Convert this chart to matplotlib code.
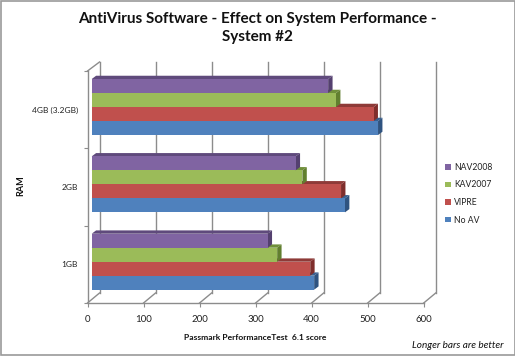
import matplotlib
matplotlib.use("Agg")
import matplotlib.pyplot as plt
from matplotlib.patches import Polygon, Rectangle, Patch

plt.rcParams['font.family'] = ['Lato', 'DejaVu Sans']

categories = ['1GB', '2GB', '4GB (3.2GB)']
series = ['No AV', 'VIPRE', 'KAV2007', 'NAV2008']
no_av = [397, 452, 511]
vipre = [390, 445, 503]
kav2007 = [331, 376, 436]
nav2008 = [314, 364, 422]
values = [no_av, vipre, kav2007, nav2008]
colors = ['#4F81BD', '#C0504D', '#9BBB59', '#8064A2']
side_colors = ['#2F5380', '#7F2E2C', '#617F2F', '#54406F']
top_colors = ['#3A6190', '#8E3A38', '#6F8F3A', '#5F4A7C']
xticks = [0, 100, 200, 300, 400, 500, 600]

W, H = 515, 356
fig = plt.figure(figsize=(W / 100, H / 100), dpi=100, facecolor='white')
left, right, top, bottom = 87.5, 423.7, 71, 303
ax = fig.add_axes([left / W, 1 - bottom / H, (right - left) / W, (bottom - top) / H])
ax.set_xlim(0, 600)
ax.set_ylim(0, 3)
ax.patch.set_alpha(0)
for s in ax.spines.values():
    s.set_visible(False)

# pixel sizes to data units
px = 600 / (right - left)
py = 3 / (bottom - top)
grid = '#8C8C8C'
wall_dx, wall_dy = 12 * px, 10 * py
bar_dx, bar_dy = 4.4 * px, 3.3 * py
bar_h = 14 * py
line_kw = dict(color=grid, lw=1.0, clip_on=False, zorder=1)

# walls
ax.plot([0, 600], [0, 0], **line_kw)
ax.plot([0, 0], [0, 3], **line_kw)
ax.plot([0, wall_dx], [3, 3 + 9 * py], **line_kw)
for x in xticks:
    ax.plot([x, x + wall_dx], [0, wall_dy], **line_kw)
    ax.plot([x + wall_dx, x + wall_dx], [wall_dy, 3 + 9 * py], **line_kw)

# bars, lowest series first so the upper faces overlap correctly
for i in range(len(series)):
    for j in range(len(categories)):
        y = j + 0.534 + (i - 2) * bar_h + bar_h / 2
        v = values[i][j]
        x0 = 4.2 * px
        x1 = x0 + v
        ytop = y + bar_h / 2
        ybot = y - bar_h / 2
        ax.add_patch(Polygon([(x0, ytop), (x1, ytop), (x1 + bar_dx, ytop + bar_dy), (x0 + bar_dx, ytop + bar_dy)],
                             closed=True, fc=top_colors[i], ec='none', clip_on=False, zorder=2))
        ax.add_patch(Polygon([(x1, ybot), (x1 + bar_dx, ybot + bar_dy), (x1 + bar_dx, ytop + bar_dy), (x1, ytop)],
                             closed=True, fc=side_colors[i], ec='none', clip_on=False, zorder=2))
        ax.barh(y, v, height=bar_h, left=x0, color=colors[i], edgecolor='none', zorder=2, clip_on=False)

# axes text
ax.set_xticks(xticks)
ax.set_yticks([0, 1, 2, 3])
ax.set_yticklabels([])
ax.set_yticks([0.5, 1.5, 2.5], labels=categories, minor=True)
ax.tick_params(axis='x', length=3, color=grid, labelsize=7, labelcolor='#222222', pad=6)
ax.tick_params(axis='y', which='major', length=3, color=grid)
ax.tick_params(axis='y', which='minor', length=0, labelsize=6, labelcolor='#222222', pad=7)

fig.text(257 / W, 1 - 28 / H, 'AntiVirus Software - Effect on System Performance -\nSystem #2',
         ha='center', va='center', fontsize=11, fontweight='bold', linespacing=1.35, color='#111111')
fig.text(21 / W, 1 - 186 / H, 'RAM', rotation=90, ha='center', va='center',
         fontsize=6.5, fontweight='bold', color='#111111')
fig.text(255.5 / W, 1 - 337 / H, 'Passmark PerformanceTest  6.1 score', ha='center', va='center',
         fontsize=6.1, fontweight='bold', color='#111111')
fig.text(504 / W, 1 - 346 / H, 'Longer bars are better', ha='right', va='center',
         fontsize=7.2, style='italic', color='#111111')

handles = [Patch(fc=colors[i], label=series[i]) for i in range(3, -1, -1)]
fig.legend(handles=handles, loc='center left', bbox_to_anchor=(445.3 / W, 1 - 193.7 / H), frameon=False,
           fontsize=6.2, handlelength=0.64, handleheight=0.64, handletextpad=0.35, labelspacing=1.0,
           borderpad=0, borderaxespad=0, labelcolor='#222222')

# chart frame
fig.add_artist(Rectangle((0.5 / W, 1.5 / H), (W - 1) / W, (H - 2) / H, transform=fig.transFigure,
                         fc='none', ec='#9A9A9A', lw=1.2))

fig.savefig('out.png', dpi=100)
